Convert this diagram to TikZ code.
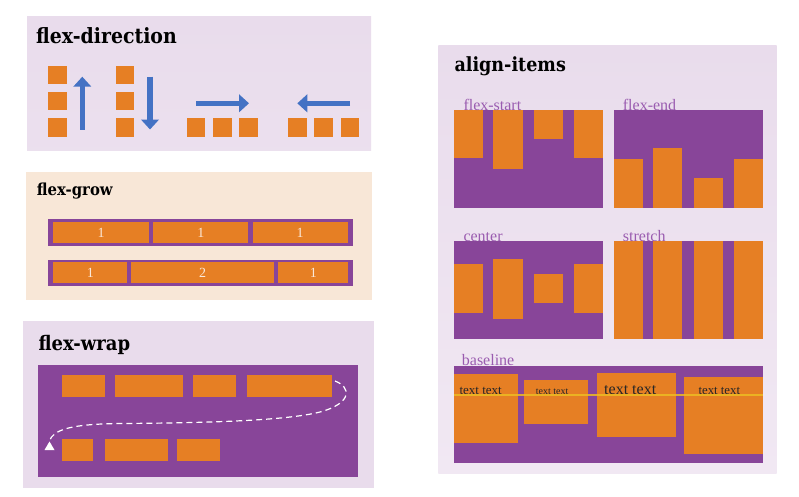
\documentclass[tikz,border=0pt]{standalone}
\usepackage{fontspec}
\setmainfont{Liberation Serif}
\newfontfamily\titlefont{DejaVu Serif Condensed}
\usetikzlibrary{arrows.meta}
\definecolor{panel}{HTML}{E9DCEC}
\definecolor{panellight}{HTML}{F1E8F3}
\definecolor{peach}{HTML}{F8E7D7}
\definecolor{org}{HTML}{E67F24}
\definecolor{purp}{HTML}{884599}
\definecolor{blu}{HTML}{4472C4}
\definecolor{lbl}{HTML}{9A5CB0}
\definecolor{goldline}{HTML}{EDBB22}
\definecolor{numtxt}{HTML}{FBE8D8}
\tikzset{
  item/.style={fill=org},
  cont/.style={fill=purp},
  ptitle/.style={anchor=base west, inner sep=0, font=\titlefont\bfseries\fontsize{20}{24}\selectfont},
  sublabel/.style={anchor=base west, inner sep=0, text=lbl, font=\fontsize{16}{18}\selectfont},
  num/.style={inner sep=0, text=numtxt, font=\fontsize{14}{16}\selectfont},
  btext/.style={anchor=base west, inner sep=0, text=black!85},
  dirarrow/.style={draw=blu, line width=5.3pt, -{Triangle[width=17.5pt,length=10pt]}},
}
\begin{document}
\begin{tikzpicture}[x=1pt,y=-1pt]
\useasboundingbox (0,0) rectangle (799,496);
\fill[white] (0,0) rectangle (799,496);

% ---------- flex-direction ----------
\shade[top color=panel, bottom color=panel!70!panellight] (27,16) rectangle (371,150);
\node[ptitle, font=\titlefont\bfseries\fontsize{21}{25}\selectfont] (tdir) at (36,43) {flex-direction};
\foreach \y in {65.7,92,118.3}{
  \fill[item] (48.3,\y) rectangle ++(18.4,18.4);
  \fill[item] (115.7,\y) rectangle ++(18.6,18.4);
}
\foreach \x in {186.7,213.3,239.3,288.3,314.3,340.7}{
  \fill[item] (\x,118.3) rectangle ++(18.4,18.4);
}
\coordinate (a1s) at (82.3,129.5);  \coordinate (a1e) at (82.3,76.7);
\coordinate (a2s) at (150,76.7);    \coordinate (a2e) at (150,129.5);
\coordinate (a3s) at (196,103.3);   \coordinate (a3e) at (249,103.3);
\coordinate (a4s) at (350,103.3);   \coordinate (a4e) at (297.3,103.3);
\draw[dirarrow] (a1s) -- (a1e);
\draw[dirarrow] (a2s) -- (a2e);
\draw[dirarrow] (a3s) -- (a3e);
\draw[dirarrow] (a4s) -- (a4e);

% ---------- flex-grow ----------
\fill[peach] (26,171.7) rectangle (371.7,300);
\node[ptitle, font=\titlefont\bfseries\fontsize{16.5}{20}\selectfont] (tgrow) at (36.7,195) {flex-grow};
\fill[cont] (48.3,219.3) rectangle (352.7,246);
\fill[item] (53.3,222.3) rectangle (148.7,243.3);
\fill[item] (153.3,222.3) rectangle (248.3,243.3);
\fill[item] (252.7,222.3) rectangle (347.7,243.3);
\node[num] (g11) at (101,233) {1};
\node[num] (g12) at (200.8,233) {1};
\node[num] (g13) at (300.2,233) {1};
\fill[cont] (48.3,259.7) rectangle (353.3,285.7);
\fill[item] (53.3,262.3) rectangle (127.3,283.3);
\fill[item] (131,262.3) rectangle (274.3,283.3);
\fill[item] (278.3,262.3) rectangle (348.3,283.3);
\node[num] (g21) at (90.3,273) {1};
\node[num] (g22) at (202.7,273) {2};
\node[num] (g23) at (313.3,273) {1};

% ---------- flex-wrap ----------
\fill[panel] (23.3,321) rectangle (374,487.7);
\node[ptitle] (twrap) at (38.3,350) {flex-wrap};
\fill[cont] (37.7,365) rectangle (358.3,476.7);
\fill[item] (62.3,375) rectangle (105,396.7);
\fill[item] (115,375) rectangle (182.7,396.7);
\fill[item] (193.3,375) rectangle (236,396.7);
\fill[item] (246.7,375) rectangle (331.7,396.7);
\fill[item] (62.3,439.3) rectangle (93.3,461);
\fill[item] (105,439.3) rectangle (168.3,461);
\fill[item] (176.7,439.3) rectangle (220,461);
\draw[white, line width=1.2pt, dash pattern=on 6pt off 4pt]
  (335,381) .. controls (351,387) and (353,403) .. (320,412)
  .. controls (285,421) and (200,423) .. (120,423.5)
  .. controls (70,424) and (53,430) .. (49.5,441);
\fill[white] (49.5,441.5) -- (54.5,450) -- (44.5,450) -- cycle;

% ---------- align-items ----------
\shade[top color=panel, bottom color=panellight] (438.3,45) rectangle (776.7,473.3);
\node[ptitle, font=\titlefont\bfseries\fontsize{19.5}{23}\selectfont] (talign) at (454.3,71.7) {align-items};

% flex-start
\fill[cont] (454,110) rectangle (603.3,208.3);
\fill[item] (454,110) rectangle (483.3,158.3);
\fill[item] (493.3,110) rectangle (522.7,169.3);
\fill[item] (534,110) rectangle (563,139.3);
\fill[item] (573.7,110) rectangle (603.3,158.3);
\node[sublabel] (lfs) at (463.3,110) {flex-start};

% flex-end
\fill[cont] (614,110) rectangle (763.3,208.3);
\fill[item] (614,159.3) rectangle (643.3,208.3);
\fill[item] (653.3,148.3) rectangle (682.3,208.3);
\fill[item] (694,178.3) rectangle (722.7,208.3);
\fill[item] (734,159.3) rectangle (763.3,208.3);
\node[sublabel] (lfe) at (622.7,110) {flex-end};

% center
\fill[cont] (454,241) rectangle (603.3,339);
\fill[item] (454,264.3) rectangle (483.3,313.3);
\fill[item] (493.3,259.3) rectangle (522.7,319);
\fill[item] (534,274) rectangle (563,303.3);
\fill[item] (573.7,264.3) rectangle (603.3,313.3);
\node[sublabel] (lce) at (463.3,241) {center};

% stretch
\fill[cont] (614,241) rectangle (763.3,339);
\fill[item] (614,241) rectangle (643.3,339);
\fill[item] (653.3,241) rectangle (682.3,339);
\fill[item] (694,241) rectangle (722.7,339);
\fill[item] (734,241) rectangle (763.3,339);
\node[sublabel] (lst) at (622.7,241) {stretch};

% baseline
\fill[cont] (454,365.7) rectangle (763.3,463.3);
\fill[item] (454,374.3) rectangle (517.7,442.7);
\fill[item] (524.3,380) rectangle (588.3,423.7);
\fill[item] (596.7,373.3) rectangle (675.7,436.7);
\fill[item] (684,376.7) rectangle (763.3,453.7);
\node[btext, font=\fontsize{13}{15}\selectfont] (bt1) at (459.3,394.5) {text text};
\node[btext, font=\fontsize{10}{12}\selectfont] (bt2) at (535.7,394.5) {text text};
\node[btext, font=\fontsize{16}{19}\selectfont] (bt3) at (604,394.5) {text text};
\node[btext, font=\fontsize{12.8}{15}\selectfont] (bt4) at (698.3,394.5) {text text};
\draw[goldline, opacity=0.85, line width=1.5pt] (454,395) -- (763.3,395);
\node[sublabel] (lbs) at (461.7,365.7) {baseline};
\end{tikzpicture}
\end{document}
